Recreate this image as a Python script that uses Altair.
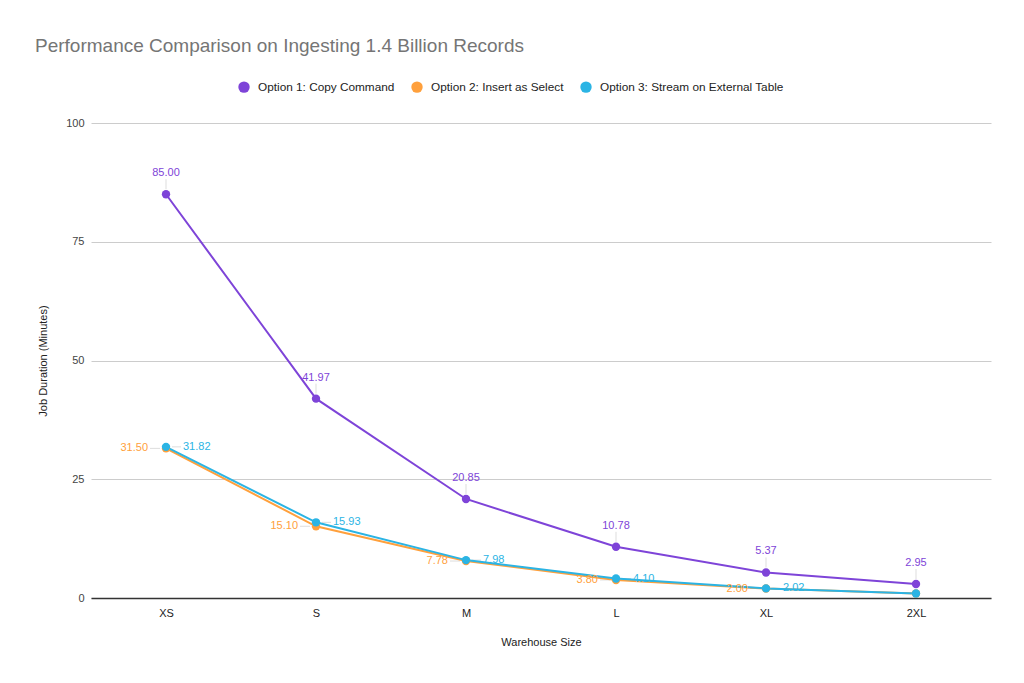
import altair as alt
import pandas as pd

sizes = ["XS", "S", "M", "L", "XL", "2XL"]
series_names = [
    "Option 1: Copy Command",
    "Option 2: Insert as Select",
    "Option 3: Stream on External Table",
]
opt1 = [85.00, 41.97, 20.85, 10.78, 5.37, 2.95]
opt2 = [31.50, 15.10, 7.78, 3.80, 2.00, 0.95]
opt3 = [31.82, 15.93, 7.98, 4.10, 2.02, 0.95]
colors = ["#7e44d8", "#ffa03c", "#2bb4e4"]
y_ticks = [0, 25, 50, 75, 100]

rows = []
for name, vals in zip(series_names, [opt1, opt2, opt3]):
    for i, (s, v) in enumerate(zip(sizes, vals)):
        rows.append({"size": s, "idx": i, "series": name, "value": v})
df = pd.DataFrame(rows)

FONT = "Liberation Sans"

x = alt.X(
    "size:N",
    sort=sizes,
    scale=alt.Scale(type="point", padding=0.5),
    axis=alt.Axis(
        title="Warehouse Size",
        labelAngle=0,
        ticks=False,
        domain=True,
        domainColor="#333333",
        domainWidth=1.5,
        labelPadding=9,
        titlePadding=18,
        labelFont=FONT,
        labelFontSize=11,
        labelColor="#222222",
        titleFont=FONT,
        titleFontSize=11,
        titleFontWeight="normal",
        titleColor="#222222",
        grid=False,
    ),
)
y = alt.Y(
    "value:Q",
    scale=alt.Scale(domain=[0, 100], nice=False),
    axis=alt.Axis(
        title="Job Duration (Minutes)",
        values=y_ticks,
        domain=False,
        ticks=False,
        labelPadding=7,
        titlePadding=17,
        labelFont=FONT,
        labelFontSize=11,
        labelColor="#444444",
        titleFont=FONT,
        titleFontSize=11,
        titleFontWeight="normal",
        titleColor="#222222",
        gridColor="#cccccc",
        gridWidth=1,
    ),
)
color = alt.Color(
    "series:N",
    sort=series_names,
    scale=alt.Scale(domain=series_names, range=colors),
    legend=alt.Legend(
        title=None,
        orient="none",
        direction="horizontal",
        legendX=147,
        legendY=-42,
        symbolType="circle",
        symbolSize=130,
        symbolStrokeWidth=0,
        labelFont=FONT,
        labelFontSize=11.8,
        labelColor="#222222",
        labelOffset=8,
        labelLimit=400,
        columnPadding=16,
    ),
)

base = alt.Chart(df)

lines = base.mark_line(strokeWidth=2).encode(x=x, y=y, color=color, order=alt.Order("idx:Q"))
ccol = alt.Color("series:N", scale=alt.Scale(domain=series_names, range=colors), legend=None)
points = base.mark_circle(size=70, opacity=1).encode(x=x, y=y, color=ccol)

d1 = base.transform_filter(alt.datum.series == series_names[0])
d2 = base.transform_filter((alt.datum.series == series_names[1]) & (alt.datum.size != "2XL"))
d3 = base.transform_filter((alt.datum.series == series_names[2]) & (alt.datum.size != "2XL"))

lead1 = d1.mark_rule(color="#dddddd", strokeWidth=1, yOffset=-5, y2Offset=-15).encode(x=x, y=y, y2="value:Q")
lead2 = d2.mark_rule(color="#dddddd", strokeWidth=1, xOffset=-16, x2Offset=-6).encode(x=x, x2="size:N", y=y)
lead3 = d3.mark_rule(color="#dddddd", strokeWidth=1, xOffset=6, x2Offset=15).encode(x=x, x2="size:N", y=y)

t1 = d1.mark_text(font=FONT, fontSize=11, dy=-21, align="center", baseline="middle").encode(
    x=x, y=y, text=alt.Text("value:Q", format=".2f"), color=ccol)
t2 = d2.mark_text(font=FONT, fontSize=11, dx=-18, align="right", baseline="middle").encode(
    x=x, y=y, text=alt.Text("value:Q", format=".2f"), color=ccol)
t3 = d3.mark_text(font=FONT, fontSize=11, dx=17, align="left", baseline="middle").encode(
    x=x, y=y, text=alt.Text("value:Q", format=".2f"), color=ccol)

chart = alt.layer(lead1, lead2, lead3, lines, points, t1, t2, t3).properties(
    width=900,
    height=475,
    autosize=alt.AutoSizeParams(type="none"),
    padding={"left": 83, "top": 115, "right": 25, "bottom": 77},
    title=alt.TitleParams(
        "Performance Comparison on Ingesting 1.4 Billion Records",
        anchor="start",
        frame="group",
        dx=-56,
        offset=25,
        font=FONT,
        fontSize=19,
        fontWeight="normal",
        color="#757575",
    ),
).configure(background="white").configure_view(stroke=None)

chart.save("out.html", embed_options={"renderer": "svg", "actions": False})
